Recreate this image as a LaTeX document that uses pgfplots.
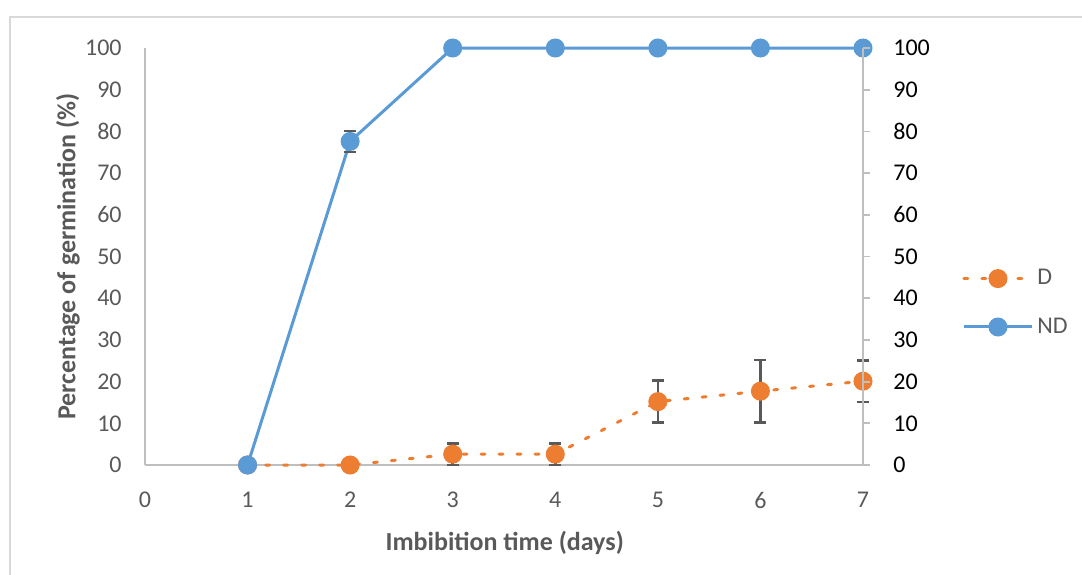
\documentclass[border=0pt]{standalone}
\usepackage{fontspec}
\setmainfont{Carlito}
\usepackage{pgfplots}
\pgfplotsset{compat=1.18}
\usepackage{pgfplotstable}
\definecolor{ndblue}{HTML}{5B9BD5}
\definecolor{dorange}{HTML}{ED7D31}
\definecolor{lbl}{HTML}{595959}
\definecolor{axl}{HTML}{BFBFBF}
\definecolor{frm}{HTML}{D9D9D9}
\definecolor{errc}{HTML}{595959}
\pgfplotstableread{
x y e
1 0 0
2 0 0
3 2.6 2.6
4 2.6 2.6
5 15.2 5
6 17.7 7.5
7 20.1 5
}\Ddata
\pgfplotstableread{
x y e
1 0 0
2 77.6 2.5
3 100 0
4 100 0
5 100 0
6 100 0
7 100 0
}\NDdata
\begin{document}
\begin{tikzpicture}
\begin{axis}[
  scale only axis, width=359pt, height=208.5pt,
  xmin=0, xmax=7, ymin=0, ymax=100,
  clip=false,
  axis x line*=bottom, axis y line*=left,
  axis line style={axl, line width=0.9pt},
  xtick={0,1,...,7}, ytick={0,10,...,100},
  major tick length=0pt,
  /pgf/number format/assume math mode=true,
  tick label style={font=\fontsize{12}{14}\selectfont, text=lbl, inner sep=0pt},
  yticklabel style={anchor=east, xshift=-11.5pt},
  xticklabel style={anchor=north, yshift=-13.5pt},
  xlabel={Imbibition time (days)},
  ylabel={Percentage of germination (\%)},
  label style={font=\fontsize{13}{15}\selectfont\bfseries, text=lbl, inner sep=0pt},
  xlabel style={at={(axis description cs:0.501,0)}, anchor=north, yshift=-33pt},
  ylabel style={at={(axis description cs:-0.1072,0.5)}, anchor=center},
  legend style={at={(rel axis cs:1.138,0.389)}, anchor=west, draw=none, fill=none,
    font=\fontsize{12}{14}\selectfont, text=lbl, row sep=11pt, inner sep=0pt},
  legend cell align=left,
  legend image code/.code={\draw[mark repeat=2,mark phase=2,#1] plot coordinates {(0pt,0pt)(17pt,0pt)(34pt,0pt)};},
]
\addplot[dorange, line width=1.5pt, dash pattern=on 2pt off 7pt, line cap=round,
  mark=*, mark size=4pt, mark options={solid, fill=dorange, draw=dorange},
  error bars/.cd, y dir=both, y explicit,
  error bar style={errc, line width=1.3pt, solid, line cap=butt},
  error mark options={errc, line width=1.3pt, mark size=3pt, rotate=90, solid}]
  table[x=x, y=y, y error=e]{\Ddata};
\addlegendentry{D}
\addplot[ndblue, line width=1.5pt,
  mark=*, mark size=4pt, mark options={solid, fill=ndblue, draw=ndblue},
  error bars/.cd, y dir=both, y explicit,
  error bar style={errc, line width=1.3pt},
  error mark options={errc, line width=1.3pt, mark size=3pt, rotate=90}]
  table[x=x, y=y, y error=e]{\NDdata};
\addlegendentry{ND}
\end{axis}
\begin{axis}[
  scale only axis, width=359pt, height=208.5pt,
  xmin=0, xmax=7, ymin=0, ymax=100,
  axis x line=none, axis y line*=right,
  axis line style={axl, line width=0.9pt},
  ytick={0,10,...,100},
  tick align=outside, major tick length=3.5pt,
  tick style={axl, line width=0.9pt},
  /pgf/number format/assume math mode=true,
  tick label style={font=\fontsize{12}{14}\selectfont, text=black, inner sep=0pt},
  yticklabel style={anchor=west, xshift=11.5pt},
]
\end{axis}
\draw[frm, line width=1.2pt] (-67.5pt,-70pt) -- (-67.5pt,224pt) -- (480pt,224pt);
\pgfresetboundingbox
\path[use as bounding box] (-72.5pt,-54.5pt) rectangle (468.5pt,232.5pt);
\end{tikzpicture}
\end{document}
